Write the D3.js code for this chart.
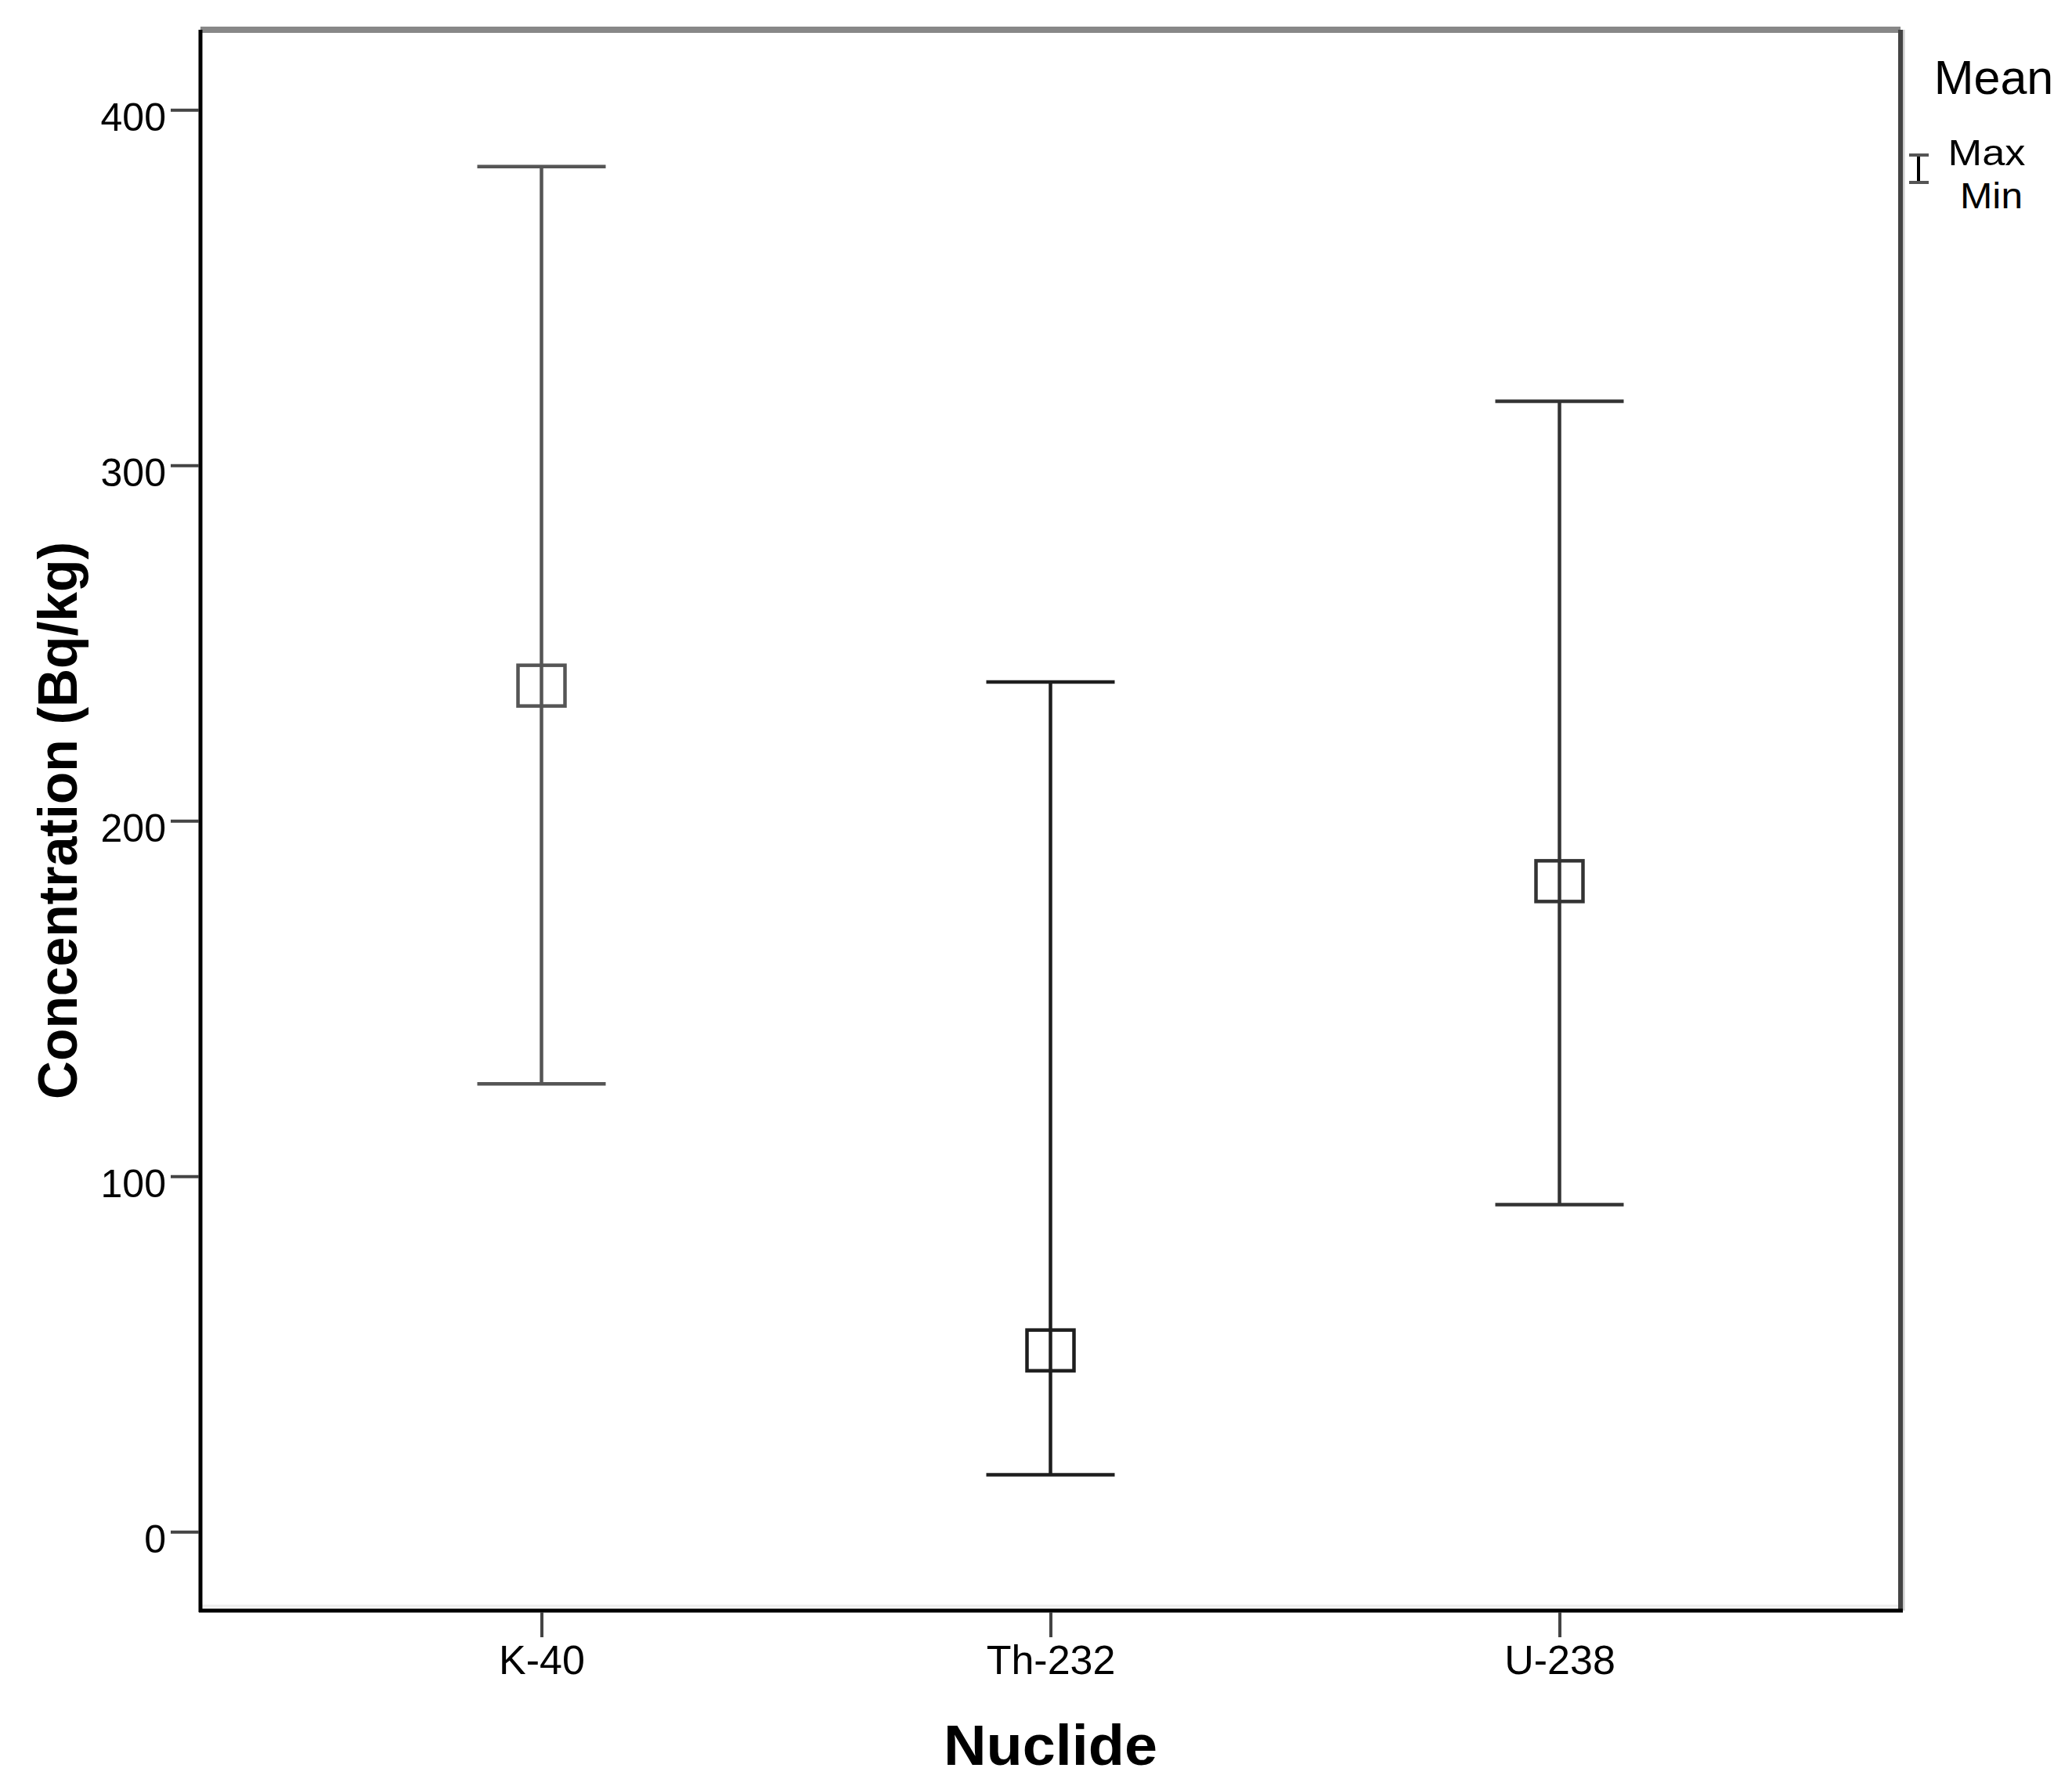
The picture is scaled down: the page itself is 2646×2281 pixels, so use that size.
<!DOCTYPE html>
<html>
<head>
<meta charset="utf-8">
<script src="https://cdn.jsdelivr.net/npm/d3@7"></script>
<style>
  html, body { margin: 0; padding: 0; background: #fff; }
  text { font-family: "Liberation Sans", Arial, sans-serif; fill: #000; }
</style>
</head>
<body>
<div id="chart"></div>
<script>
// values
const nuclides = ['K-40', 'Th-232', 'U-238'];
const meanValues = [238, 51, 183];
const maxValues = [384, 239, 318];
const minValues = [126, 16, 92];
const yTicks = [0, 100, 200, 300, 400];
const legendLabels = ['Mean', 'Max', 'Min'];

const width = 2646, height = 2281;
const frameL = 256, frameR = 2427, frameT = 38, frameB = 2057;

const svg = d3
  .select('#chart')
  .append('svg')
  .attr('width', width)
  .attr('height', height);

const x = d3.scalePoint().domain(nuclides).range([frameL, frameR]).padding(0.67);
const y = d3.scaleLinear().domain([-22.2, 422.5]).range([frameB, frameT]);

const rows = nuclides.map((n, i) => ({ name: n, mean: meanValues[i], max: maxValues[i], min: minValues[i] }));

// frame
svg.append('line').attr('x1', frameL).attr('x2', frameR).attr('y1', frameB - 6).attr('y2', frameB - 6)
  .attr('stroke', '#eee').attr('stroke-width', 3);
svg.append('line').attr('x1', frameR + 4).attr('x2', frameR + 4).attr('y1', frameT).attr('y2', frameB)
  .attr('stroke', '#ccc').attr('stroke-width', 3);
svg.append('line').attr('x1', frameL).attr('x2', frameR).attr('y1', frameT).attr('y2', frameT)
  .attr('stroke', '#888').attr('stroke-width', 8);
svg.append('line').attr('x1', frameR).attr('x2', frameR).attr('y1', frameT).attr('y2', frameB)
  .attr('stroke', '#444').attr('stroke-width', 6);
svg.append('line').attr('x1', frameL).attr('x2', frameL).attr('y1', frameT).attr('y2', frameB + 2)
  .attr('stroke', '#000').attr('stroke-width', 5);
svg.append('line').attr('x1', frameL - 2).attr('x2', frameR + 3).attr('y1', frameB).attr('y2', frameB)
  .attr('stroke', '#000').attr('stroke-width', 5);

// axes
const yAxis = svg.append('g')
  .attr('transform', `translate(${frameL - 2},0)`)
  .call(d3.axisLeft(y).tickValues(yTicks).tickSize(36).tickPadding(6));
yAxis.select('.domain').remove();
yAxis.selectAll('line').attr('stroke', '#444').attr('stroke-width', 4);
yAxis.selectAll('text').attr('font-size', 50).attr('dy', '0.52em').style('font-family', '"Liberation Sans", Arial, sans-serif');

const xAxis = svg.append('g')
  .attr('transform', `translate(0,${frameB + 2})`)
  .call(d3.axisBottom(x).tickSize(32).tickPadding(10));
xAxis.select('.domain').remove();
xAxis.selectAll('line').attr('stroke', '#444').attr('stroke-width', 4);
xAxis.selectAll('text').attr('font-size', 52).style('font-family', '"Liberation Sans", Arial, sans-serif');

// error bars
const capHalf = 82;
const barColor = ['#555', '#1e1e1e', '#333'];
const bars = svg.append('g').attr('class', 'bars');
const g = bars.selectAll('.bar').data(rows).enter().append('g').attr('class', 'bar')
  .attr('stroke', (d, i) => barColor[i]);

g.append('line')
  .attr('x1', d => x(d.name)).attr('x2', d => x(d.name))
  .attr('y1', d => y(d.max)).attr('y2', d => y(d.min))
  .attr('stroke-width', 4.5);
g.append('line')
  .attr('x1', d => x(d.name) - capHalf).attr('x2', d => x(d.name) + capHalf)
  .attr('y1', d => y(d.max)).attr('y2', d => y(d.max))
  .attr('stroke-width', 4.5);
g.append('line')
  .attr('x1', d => x(d.name) - capHalf).attr('x2', d => x(d.name) + capHalf)
  .attr('y1', d => y(d.min)).attr('y2', d => y(d.min))
  .attr('stroke-width', 4.5);
g.append('rect')
  .attr('x', d => x(d.name) - 30).attr('y', d => y(d.mean) - 26)
  .attr('width', 60).attr('height', 52)
  .attr('fill', 'none').attr('stroke-width', 4.5);

// axis titles
svg.append('text')
  .attr('transform', 'translate(98,1048) rotate(-90)')
  .attr('text-anchor', 'middle')
  .attr('font-size', 70).attr('font-weight', 'bold')
  .attr('textLength', 712).attr('lengthAdjust', 'spacingAndGlyphs')
  .text('Concentration (Bq/kg)');

svg.append('text')
  .attr('x', x('Th-232')).attr('y', 2254)
  .attr('text-anchor', 'middle')
  .attr('font-size', 72).attr('font-weight', 'bold')
  .attr('textLength', 273).attr('lengthAdjust', 'spacingAndGlyphs')
  .text('Nuclide');

// legend
const legend = svg.append('g').attr('class', 'legend');
legend.append('text').attr('x', 2546).attr('y', 120).attr('text-anchor', 'middle')
  .attr('font-size', 61).text(legendLabels[0]);
legend.append('text').attr('x', 2537).attr('y', 211).attr('text-anchor', 'middle')
  .attr('font-size', 46).attr('textLength', 99).attr('lengthAdjust', 'spacingAndGlyphs')
  .text(legendLabels[1]);
legend.append('text').attr('x', 2543).attr('y', 266).attr('text-anchor', 'middle')
  .attr('font-size', 46).attr('textLength', 80).attr('lengthAdjust', 'spacingAndGlyphs')
  .text(legendLabels[2]);
legend.append('line').attr('x1', 2450).attr('x2', 2450).attr('y1', 198).attr('y2', 234)
  .attr('stroke', '#000').attr('stroke-width', 4);
legend.append('line').attr('x1', 2438).attr('x2', 2463).attr('y1', 198).attr('y2', 198)
  .attr('stroke', '#555').attr('stroke-width', 4);
legend.append('line').attr('x1', 2438).attr('x2', 2463).attr('y1', 233).attr('y2', 233)
  .attr('stroke', '#555').attr('stroke-width', 4);
</script>
</body>
</html>
